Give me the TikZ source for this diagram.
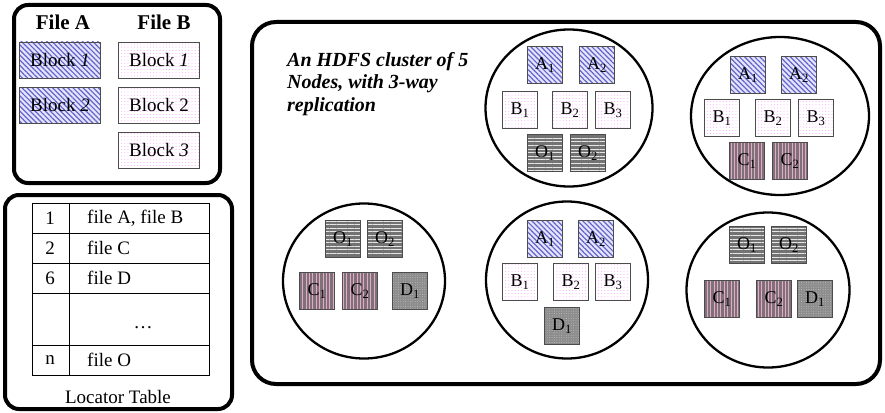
\documentclass[tikz,border=0pt]{standalone}
\usepackage{fontspec}
\setmainfont{Liberation Serif}
\usetikzlibrary{shapes.geometric, patterns.meta, positioning}
\definecolor{hatchblue}{RGB}{100,100,200}
\definecolor{mauvegray}{RGB}{128,112,120}
\definecolor{stripepink}{RGB}{225,170,200}

\begin{document}
\begin{tikzpicture}[
    x=1pt, y=-1pt,
    panel/.style={draw, line width=4pt, rounded corners=14pt},
    machine/.style={draw, ellipse, line width=2.3pt, inner sep=0pt},
    blk/.style={draw=black!70, line width=0.9pt, minimum width=35pt, minimum height=37pt, inner sep=0pt, font=\fontsize{18}{20}\selectfont},
    blkA/.style={blk, preaction={fill=blue!10}, pattern={Lines[angle=-45, distance=3.6pt, line width=1.2pt]}, pattern color=hatchblue},
    blkB/.style={blk, preaction={fill=white}, pattern={Dots[distance=3.2pt, radius=0.45pt]}, pattern color=magenta!45},
    blkC/.style={blk, preaction={fill=mauvegray}, pattern={Lines[angle=90, distance=3.4pt, line width=1pt]}, pattern color=stripepink},
    blkO/.style={blk, preaction={fill=black!55}, pattern={Lines[angle=0, distance=3.6pt, line width=1pt]}, pattern color=white!90!black},
    blkD/.style={blk, preaction={fill=black!45}, pattern={Dots[distance=2.4pt, radius=0.5pt]}, pattern color=black!25},
    fileblk/.style={minimum width=81pt, minimum height=36pt, font=\fontsize{19}{21}\selectfont},
    cell/.style={inner sep=0pt, font=\fontsize{19}{21}\selectfont}
]
    \useasboundingbox (0,0) rectangle (885,412);

    % Files and their blocks
    \draw[panel] (14,5) rectangle (220,183);
    \node[font=\bfseries\fontsize{21}{23}\selectfont] (fileA) at (63,22) {File A};
    \node[font=\bfseries\fontsize{21}{23}\selectfont] (fileB) at (164,22) {File B};
    \node[blkA, fileblk] (a1) at (60,60) {Block \textit{1}};
    \node[blkA, fileblk] (a2) at (60,105) {Block \textit{2}};
    \node[blkB, fileblk] (b1) at (159,60) {Block \textit{1}};
    \node[blkB, fileblk] (b2) at (159,105) {Block 2};
    \node[blkB, fileblk] (b3) at (159,150) {Block \textit{3}};

    % Locator table
    \draw[panel] (5,195) rectangle (232,409);
    \draw[line width=0.7pt] (32,203) rectangle (209,375);
    \draw[line width=0.7pt] (69,203) -- (69,375);
    \foreach \y in {233,263,293,345}
        \draw[line width=0.7pt] (32,\y) -- (209,\y);
    \node[cell] (k1) at (50,218) {1};
    \node[cell] (k2) at (50,248) {2};
    \node[cell] (k6) at (50,278) {6};
    \node[cell] (kn) at (50,360) {n};
    \node[cell, anchor=west] (f1) at (87,218) {file A, file B};
    \node[cell, anchor=west] (f2) at (87,248) {file C};
    \node[cell, anchor=west] (f6) at (87,278) {file D};
    \node[cell] (fdots) at (143,328) {\dots};
    \node[cell, anchor=west] (fn) at (87,360) {file O};
    \node[cell] (loc) at (118,397) {Locator Table};

    % Cluster
    \draw[panel, rounded corners=24pt] (252,22) rectangle (880,384);
    \node[anchor=north west, align=left, inner sep=0pt, font=\bfseries\itshape\fontsize{20}{22.5}\selectfont] (title) at (287,52)
        {An HDFS cluster of 5\\Nodes, with 3-way\\replication};

    \node[machine, minimum width=167pt, minimum height=157pt] (m1) at (569,108) {};
    \node[machine, minimum width=178pt, minimum height=158pt] (m2) at (780,116) {};
    \node[machine, minimum width=162pt, minimum height=155pt] (m3) at (364,281) {};
    \node[machine, minimum width=162pt, minimum height=157pt] (m4) at (567,280) {};
    \node[machine, minimum width=163pt, minimum height=155pt] (m5) at (768,290) {};

    % Node 1
    \node[blkA] (m1a1) at (545,65) {A\textsubscript{1}};
    \node[blkA] (m1a2) at (597,65) {A\textsubscript{2}};
    \node[blkB] (m1b1) at (520,110) {B\textsubscript{1}};
    \node[blkB] (m1b2) at (570,110) {B\textsubscript{2}};
    \node[blkB] (m1b3) at (613,110) {B\textsubscript{3}};
    \node[blkO] (m1o1) at (545,153) {O\textsubscript{1}};
    \node[blkO] (m1o2) at (588,153) {O\textsubscript{2}};

    % Node 2
    \node[blkA] (m2a1) at (748,75) {A\textsubscript{1}};
    \node[blkA] (m2a2) at (799,75) {A\textsubscript{2}};
    \node[blkB] (m2b1) at (722,118) {B\textsubscript{1}};
    \node[blkB] (m2b2) at (773,118) {B\textsubscript{2}};
    \node[blkB] (m2b3) at (816,118) {B\textsubscript{3}};
    \node[blkC] (m2c1) at (747,161) {C\textsubscript{1}};
    \node[blkC] (m2c2) at (790,161) {C\textsubscript{2}};

    % Node 3
    \node[blkO] (m3o1) at (343,239) {O\textsubscript{1}};
    \node[blkO] (m3o2) at (385,239) {O\textsubscript{2}};
    \node[blkC] (m3c1) at (317,291) {C\textsubscript{1}};
    \node[blkC] (m3c2) at (360,291) {C\textsubscript{2}};
    \node[blkD] (m3d1) at (410,291) {D\textsubscript{1}};

    % Node 4
    \node[blkA] (m4a1) at (545,239) {A\textsubscript{1}};
    \node[blkA] (m4a2) at (596,239) {A\textsubscript{2}};
    \node[blkB] (m4b1) at (520,282) {B\textsubscript{1}};
    \node[blkB] (m4b2) at (571,282) {B\textsubscript{2}};
    \node[blkB] (m4b3) at (613,282) {B\textsubscript{3}};
    \node[blkD] (m4d1) at (562,326) {D\textsubscript{1}};

    % Node 5
    \node[blkO] (m5o1) at (747,245) {O\textsubscript{1}};
    \node[blkO] (m5o2) at (789,245) {O\textsubscript{2}};
    \node[blkC] (m5c1) at (722,299) {C\textsubscript{1}};
    \node[blkC] (m5c2) at (774,299) {C\textsubscript{2}};
    \node[blkD] (m5d1) at (815,299) {D\textsubscript{1}};
\end{tikzpicture}
\end{document}
